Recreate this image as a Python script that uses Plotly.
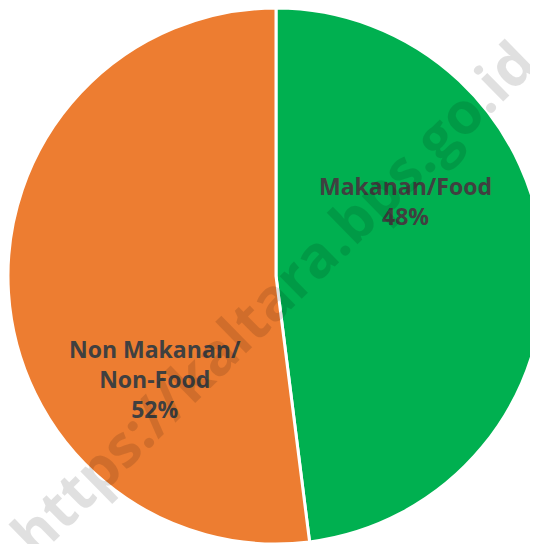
import plotly.graph_objects as go

labels = ["Makanan/Food", "Non Makanan/<br>Non-Food"]
values = [48, 52]
colors = ["#00B050", "#ED7D31"]
label_pos = [(0.7425, 0.639), (0.274, 0.308)]
watermark = "https://kaltara.bps.go.id"

fig = go.Figure(go.Pie(
    labels=labels,
    values=values,
    sort=False,
    direction="clockwise",
    rotation=0,
    marker=dict(colors=colors, line=dict(color="white", width=3)),
    textinfo="none",
    hoverinfo="label+percent",
    domain=dict(x=[0, 1], y=[0, 1]),
))

annotations = []
for lab, val, (px, py) in zip(labels, values, label_pos):
    annotations.append(dict(
        x=px, y=py, xref="paper", yref="paper",
        xanchor="center", yanchor="middle",
        text=f"<b>{lab}<br>{val}%</b>", showarrow=False,
        font=dict(family="Open Sans", size=23, color="#404040"),
        align="center",
    ))
annotations.append(dict(
    x=0.493, y=0.461, xref="paper", yref="paper",
    xanchor="center", yanchor="middle",
    text=f"<b>{watermark}</b>", showarrow=False, textangle=-44.4,
    font=dict(family="Open Sans", size=58, color="rgba(0,0,0,0.12)"),
))

fig.update_layout(
    width=536, height=536,
    margin=dict(l=0, r=0, t=0, b=0),
    paper_bgcolor="white", plot_bgcolor="white",
    showlegend=False,
    annotations=annotations,
)

fig.write_html("out.html")
